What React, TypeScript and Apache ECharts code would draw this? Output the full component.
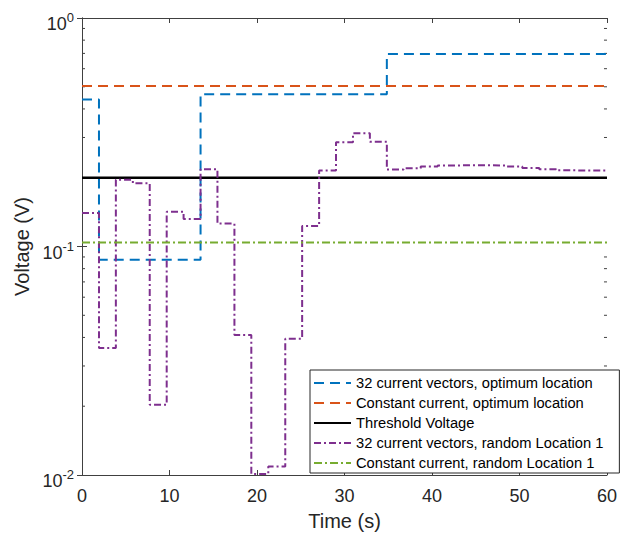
import React, { useEffect, useRef } from "react";
import * as echarts from "echarts";

const FONT = "Liberation Sans, Arial, Helvetica, sans-serif";

const seriesNames = [
  "32 current vectors, optimum location",
  "Constant current, optimum location",
  "Threshold Voltage",
  "32 current vectors, random Location 1",
  "Constant current, random Location 1",
];

const xTicks = [0, 10, 20, 30, 40, 50, 60];

const blueTimes = [0, 1.94, 13.55, 34.84, 60];
const blueValues = [0.44, 0.0875, 0.464, 0.696, 0.696];

const orangeTimes = [0, 60];
const orangeValues = [0.504, 0.504];

const thresholdTimes = [0, 60];
const thresholdValues = [0.2, 0.2];

const purpleTimes = [
  0, 1.94, 3.87, 5.81, 7.74, 9.68, 11.61, 13.55, 15.48, 17.42, 19.35, 21.29,
  23.23, 25.16, 27.1, 29.03, 30.97, 32.9, 34.84, 36.77, 38.71, 40.65, 42.58,
  44.52, 46.45, 48.39, 50.32, 52.26, 54.19, 56.13, 58.06, 60,
];
const purpleValues = [
  0.14, 0.036, 0.196, 0.189, 0.0203, 0.142, 0.132, 0.218, 0.126, 0.041,
  0.0101, 0.0109, 0.0395, 0.123, 0.215, 0.286, 0.313, 0.287, 0.217, 0.22,
  0.224, 0.226, 0.227, 0.227, 0.226, 0.224, 0.2205, 0.218, 0.2155, 0.215,
  0.215, 0.215,
];

const greenTimes = [0, 60];
const greenValues = [0.104, 0.104];

const minorYTicks = [
  0.02, 0.03, 0.04, 0.05, 0.06, 0.07, 0.08, 0.09, 0.2, 0.3, 0.4, 0.5, 0.6,
  0.7, 0.8, 0.9,
];

const colors = ["#0072BD", "#D95319", "#000000", "#7E2F8E", "#77AC30"];

const zip = (xs: number[], ys: number[]) => xs.map((x, i) => [x, ys[i]]);

export default function App() {
  const ref = useRef<HTMLDivElement>(null);

  useEffect(() => {
    if (!ref.current) return;
    const chart = echarts.init(ref.current, undefined, { renderer: "svg" });
    const axisColor = "#404040";

    const yLabel = {
      show: true,
      margin: 8,
      color: "#262626",
      fontFamily: FONT,
      padding: [8, 0, 0, 0],
      formatter: (v: number) => {
        const e = Math.round(Math.log10(v));
        return `{b|10}{s|${e}}`;
      },
      rich: {
        b: {
          fontSize: 18,
          fontFamily: FONT,
          color: "#262626",
          lineHeight: 18,
          verticalAlign: "bottom",
        },
        s: {
          fontSize: 13,
          fontFamily: FONT,
          color: "#262626",
          lineHeight: 22,
          verticalAlign: "top",
        },
      },
    };

    const lineSeries = (
      idx: number,
      data: number[][],
      type: any,
      width: number,
      step: boolean
    ) => ({
      name: seriesNames[idx],
      type: "line",
      data,
      step: step ? "end" : false,
      showSymbol: false,
      symbol: "none",
      color: colors[idx],
      lineStyle: { color: colors[idx], width, type },
      z: 2 + idx,
    });

    chart.setOption({
      animation: false,
      backgroundColor: "#ffffff",
      grid: { left: 82, right: 12, top: 18, bottom: 64 },
      legend: {
        data: seriesNames,
        orient: "vertical",
        left: 310,
        top: 370,
        itemWidth: 37,
        itemHeight: 14,
        itemGap: 4,
        padding: [5, 16, 2, 3],
        backgroundColor: "#ffffff",
        borderColor: "#262626",
        borderWidth: 1,
        borderRadius: 0,
        textStyle: { fontSize: 14.7, lineHeight: 16, color: "#000000", fontFamily: FONT, padding: [0, 0, 0, 0] },
        itemStyle: { opacity: 0 },
      },
      xAxis: [
        {
          type: "value",
          min: 0,
          max: 60,
          interval: 10,
          name: "Time (s)",
          nameLocation: "middle",
          nameGap: 36,
          nameTextStyle: { fontSize: 20, color: "#262626", fontFamily: FONT },
          axisLine: { show: true, lineStyle: { color: axisColor, width: 1 } },
          axisTick: { show: true, inside: true, length: 5, lineStyle: { color: axisColor } },
          axisLabel: {
            show: true,
            margin: 12,
            fontSize: 18,
            color: "#262626",
            fontFamily: FONT,
            formatter: (v: number) => (xTicks.includes(v) ? String(v) : ""),
          },
          splitLine: { show: false },
        },
        {
          type: "value",
          min: 0,
          max: 60,
          interval: 10,
          position: "top",
          axisLine: { show: true, lineStyle: { color: axisColor, width: 1 } },
          axisTick: { show: true, inside: true, length: 5, lineStyle: { color: axisColor } },
          axisLabel: { show: false },
          splitLine: { show: false },
        },
      ],
      yAxis: [
        {
          type: "log",
          logBase: 10,
          min: 0.01,
          max: 1,
          name: "Voltage (V)",
          nameLocation: "middle",
          nameGap: 44,
          nameTextStyle: { fontSize: 20, color: "#262626", fontFamily: FONT },
          axisLine: { show: true, lineStyle: { color: axisColor, width: 1 } },
          axisTick: { show: true, inside: true, length: 5, lineStyle: { color: axisColor } },
          axisLabel: yLabel,
          splitLine: { show: false },
        },
        {
          type: "log",
          logBase: 10,
          min: 0.01,
          max: 1,
          position: "right",
          axisLine: { show: true, lineStyle: { color: axisColor, width: 1 } },
          axisTick: { show: true, inside: true, length: 5, lineStyle: { color: axisColor } },
          axisLabel: { show: false },
          splitLine: { show: false },
        },
      ],
      series: [
        {
          type: "custom",
          name: "minor-ticks",
          coordinateSystem: "cartesian2d",
          silent: true,
          data: minorYTicks.map((v) => [0, v]),
          encode: { x: 0, y: 1 },
          renderItem: (_params: any, api: any) => {
            const v = api.value(1);
            const l = api.coord([0, v]);
            const r = api.coord([60, v]);
            return {
              type: "group",
              children: [
                {
                  type: "line",
                  shape: { x1: l[0], y1: l[1], x2: l[0] + 3, y2: l[1] },
                  style: { stroke: axisColor, lineWidth: 1 },
                },
                {
                  type: "line",
                  shape: { x1: r[0], y1: r[1], x2: r[0] - 3, y2: r[1] },
                  style: { stroke: axisColor, lineWidth: 1 },
                },
              ],
            };
          },
          z: 1,
        },
        lineSeries(0, zip(blueTimes, blueValues), [10, 6], 2, true),
        lineSeries(1, zip(orangeTimes, orangeValues), [10, 6], 2, false),
        lineSeries(2, zip(thresholdTimes, thresholdValues), "solid", 2.5, false),
        lineSeries(3, zip(purpleTimes, purpleValues), [7, 3, 2, 3], 2, true),
        lineSeries(4, zip(greenTimes, greenValues), [8, 3, 2, 3], 2, false),
      ],
    });

    return () => chart.dispose();
  }, []);

  return (
    <div
      ref={ref}
      style={{ position: "fixed", left: 0, top: 0, width: 620, height: 539, background: "#fff" }}
    />
  );
}
